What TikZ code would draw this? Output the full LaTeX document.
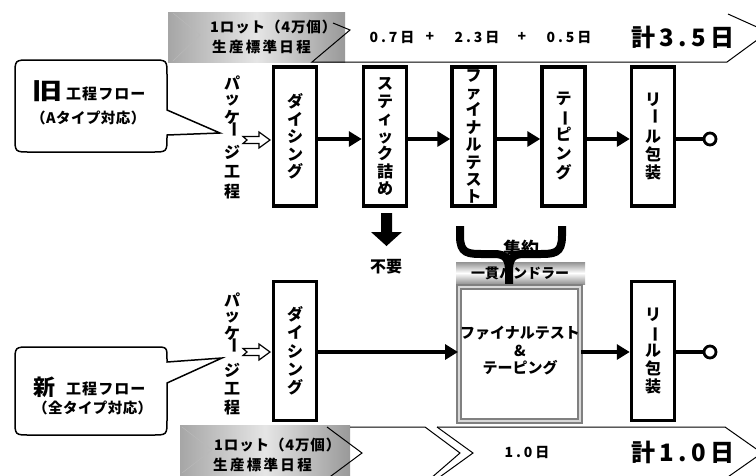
\documentclass[tikz,border=0pt]{standalone}
\usepackage{fontspec}
\usepackage{graphicx}
\setmainfont{Noto Sans CJK JP}
\usetikzlibrary{arrows.meta}
\newcommand{\vbar}{\rotatebox[origin=c]{-90}{ー}}
\begin{document}
\begin{tikzpicture}[x=1pt,y=-1pt,
  every node/.style={inner sep=0pt, font=\bfseries},
  procbox/.style={draw, line width=3.5pt, minimum width=43pt, minimum height=139pt, inner sep=0pt, align=center, font=\bfseries\fontsize{16}{17.5}\selectfont},
  flow/.style={line width=4pt, -{Triangle[length=13pt,width=15pt]}},
  endline/.style={line width=4pt},
  endmark/.style={circle, draw, line width=2.8pt, minimum size=12pt, fill=white},
  callout/.style={line width=1.5pt},
  banner/.style={left color=gray!70, right color=gray!80, middle color=gray!20},
  faint/.style={gray!55, line width=0.5pt},
  chev/.style={line width=1pt},
  openarrow/.style={line width=1.2pt, fill=white},
  vtext/.style={font=\bfseries\fontsize{16}{16}\selectfont},
  bantext/.style={anchor=west, font=\bfseries\fontsize{14.5}{15}\selectfont},
  numtxt/.style={font=\bfseries\fontsize{14}{14}\selectfont\addfontfeature{LetterSpace=21}},
  totaltxt/.style={font=\bfseries\fontsize{24}{24}\selectfont\addfontfeature{LetterSpace=19}},
  brace/.style={line width=8pt},
]
\useasboundingbox (0,0) rectangle (756,475);
\clip (0,0) rectangle (756,475);

% ---------- top banner ----------
\shade[banner] (168,12) rectangle (345,62);
\draw[faint] (173,13) -- (200,35) -- (173,61);
\draw[chev] (333,23) -- (350,30) -- (312,62) -- (727,62) -- (768,32) -- (728,14);
\node[bantext] (tb1) at (210,27) {\addfontfeature{LetterSpace=6}1ロット（4万個）};
\node[bantext] (tb2) at (212,47) {\addfontfeature{LetterSpace=16}生産標準日程};
\node[numtxt] (n1) at (392,37) {0.7日};
\node[numtxt] (p1) at (430,37) {+};
\node[numtxt] (n2) at (477,37) {2.3日};
\node[numtxt] (p2) at (522,37) {+};
\node[numtxt] (n3) at (569,37) {0.5日};
\node[totaltxt] (tot1) at (683,37) {計3.5日};

% ---------- bottom banner ----------
\shade[banner] (180,425) rectangle (350,475);
\draw[faint] (182,427) -- (212,450) -- (182,473);
\draw[chev] (327,427) -- (362,453) -- (327,479);
\draw[chev] (350,427) -- (425,427) -- (460,453) -- (430,479);
\draw[chev] (437,427) -- (473,453) -- (437,479);
\draw[chev] (437,427) -- (725,427) -- (762,453) -- (725,479);
\node[bantext] (bb1) at (214,445) {\addfontfeature{LetterSpace=6}1ロット（4万個）};
\node[bantext] (bb2) at (213,465) {\addfontfeature{LetterSpace=16}生産標準日程};
\node[numtxt] (n4) at (527,452) {1.0日};
\node[totaltxt] (tot2) at (683,452) {計1.0日};

% ---------- callouts ----------
\draw[callout] (30,60) -- (152,60) .. controls (167,60) .. (167,75) -- (167,110) -- (220,133) -- (167,135)
  -- (167,137) .. controls (167,152) .. (152,152) -- (30,152) .. controls (15,152) .. (15,137)
  -- (15,75) .. controls (15,60) .. (30,60) -- cycle;
\node[font=\bfseries\fontsize{23}{23}\selectfont] (old) at (47,91) {\scalebox{1.3}[1]{旧}};
\node[anchor=west, font=\bfseries\fontsize{15}{15}\selectfont] (oldt) at (66,94) {\addfontfeature{LetterSpace=7}工程フロー};
\node[anchor=west, font=\bfseries\fontsize{14.5}{15}\selectfont] (olds) at (31,118) {\addfontfeature{LetterSpace=3}（Aタイプ対応）};

\draw[callout] (30,347) -- (155,347) .. controls (167,347) .. (167,359) -- (167,362) -- (222,358) -- (167,383)
  -- (167,420) .. controls (167,435) .. (152,435) -- (30,435) .. controls (15,435) .. (15,420)
  -- (15,362) .. controls (15,347) .. (30,347) -- cycle;
\node[font=\bfseries\fontsize{22}{22}\selectfont] (new) at (44,387) {新};
\node[anchor=west, font=\bfseries\fontsize{15}{15}\selectfont] (newt) at (66,389) {\addfontfeature{LetterSpace=7}工程フロー};
\node[anchor=west, font=\bfseries\fontsize{14.5}{15}\selectfont] (news) at (33,408) {\addfontfeature{LetterSpace=3}（全タイプ対応）};

% ---------- package text ----------
\foreach \c/\yy [count=\i] in {パ/83,ッ/100,ケ/117,\vbar/129,ジ/152,工/172,程/191}
  \node[vtext] (pa\i) at (232,\yy) {\c};
\foreach \c/\yy [count=\i] in {パ/300,ッ/317,ケ/333,\vbar/345,ジ/370,工/389,程/407}
  \node[vtext] (pb\i) at (232,\yy) {\c};

\foreach \yy in {140,352}{
  \begin{scope}[shift={(0,\yy)}]
    \draw[openarrow] (243,-3.5) -- (259,-3.5) -- (259,-8) -- (270,0) -- (259,8) -- (259,3.5) -- (243,3.5) -- (247,0) -- cycle;
  \end{scope}
}

% ---------- old flow ----------
\coordinate (ya) at (0,139);
\coordinate (yb) at (0,352);
\node[procbox] (d1) at (295,136.5) {ダ\\イ\\シ\\ン\\グ};
\node[procbox] (s1) at (385,136.5) {ス\\テ\\ィ\\ッ\\ク\\詰\\め};
\node[procbox, font=\bfseries\fontsize{16}{17.4}\selectfont] (f1) at (473.5,136.5) {フ\\ァ\\イ\\ナ\\ル\\テ\\ス\\ト};
\node[procbox, font=\bfseries\fontsize{16}{19}\selectfont] (t1) at (563.5,136.5) {テ\\[-2pt]\vbar\\ピ\\ン\\グ};
\node[procbox, font=\bfseries\fontsize{16}{18}\selectfont] (r1) at (653,136.5) {リ\\[-3pt]\vbar\\[4pt]ル\\包\\装};
\node[endmark] (o1) at (710,139) {};
\draw[flow] (d1.east |- ya) -- (s1.west |- ya);
\draw[flow] (s1.east |- ya) -- (f1.west |- ya);
\draw[flow] (f1.east |- ya) -- (t1.west |- ya);
\draw[flow] (t1.east |- ya) -- (r1.west |- ya);
\draw[endline] (r1.east |- ya) -- (o1.west);

% down arrow + 不要
\fill (381,213) -- (392,213) -- (392,232) -- (402,232) -- (386.5,246) -- (371,232) -- (381,232) -- cycle;
\node[font=\bfseries\fontsize{16}{16}\selectfont] (fuyo) at (386,267) {不要};

% ---------- handler bar ----------
\shade[top color=gray!85, bottom color=gray!85, middle color=white] (456,262) rectangle (585,284);
\node[font=\bfseries\fontsize{14}{14}\selectfont] (hd) at (520,273) {一貫ハンドラー};
\node[font=\bfseries\fontsize{18}{18}\selectfont] (shu) at (521,249) {集約};
\draw[brace] (460,226) -- (460,236) .. controls (460,254) and (468,254) .. (484,254) -- (494,254)
  .. controls (506,254) and (509,259) .. (509,272) -- (509,285);
\draw[brace] (562,226) -- (562,236) .. controls (562,254) and (554,254) .. (538,254) -- (524,254)
  .. controls (512,254) and (509,259) .. (509,272);

% ---------- new flow ----------
\node[procbox, font=\bfseries\fontsize{16}{18.25}\selectfont] (d2) at (295,351) {ダ\\イ\\シ\\ン\\グ};
\node[draw=gray, line width=2pt, double=gray!30, double distance=1.5pt, minimum width=121pt, minimum height=134pt] (fb) at (519.5,354) {};
\node[align=center, font=\bfseries\fontsize{15}{17.5}\selectfont] (fbt) at (520,351) {ファイナルテスト\\\&\\テーピング};
\node[procbox, font=\bfseries\fontsize{16}{18}\selectfont] (r2) at (653,351) {リ\\\vbar\\ル\\包\\装};
\node[endmark] (o2) at (710,352) {};
\draw[flow] (d2.east |- yb) -- (fb.west |- yb);
\draw[flow] (fb.east |- yb) -- (r2.west |- yb);
\draw[endline] (r2.east |- yb) -- (o2.west);
\end{tikzpicture}
\end{document}
